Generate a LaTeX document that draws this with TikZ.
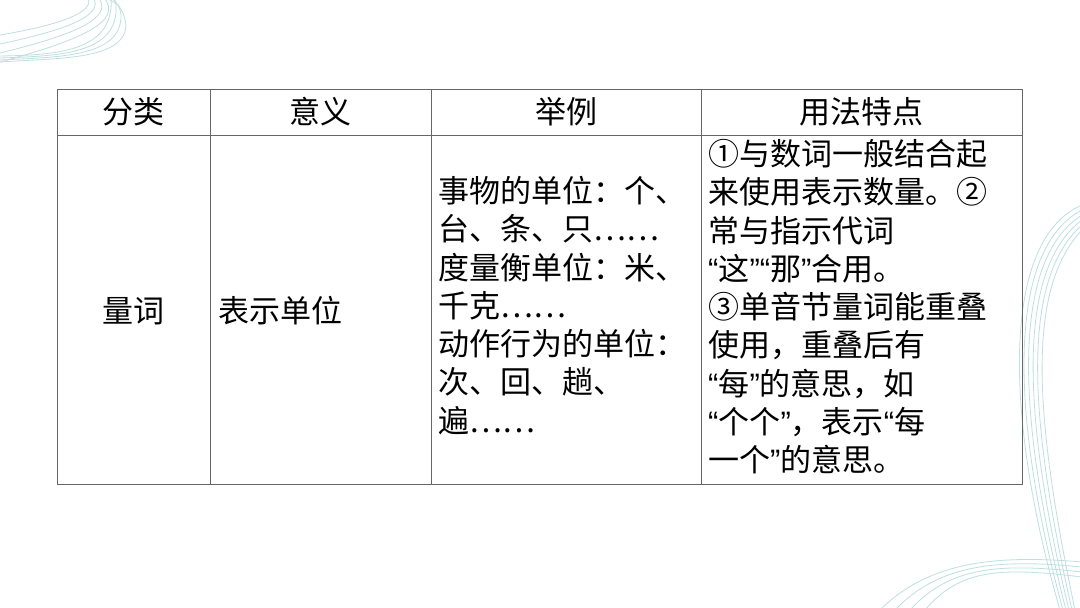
\documentclass[tikz,border=0pt]{standalone}
\usepackage{fontspec}
\newfontfamily\cjk{Noto Sans CJK SC}
\newfontfamily\lat{Liberation Sans}
\newcommand{\myl}{{\lat “}}
\newcommand{\myr}{{\lat ”}}
\begin{document}
\begin{tikzpicture}[x=1pt,y=-1pt,
  deco/.style={draw=teal!25,line width=0.8pt},
  grid/.style={draw=black!60,line width=0.7pt},
  cell/.style={font=\cjk\fontsize{31}{38.3}\selectfont,inner sep=0pt,align=left,anchor=north west},
  head/.style={font=\cjk\fontsize{31}{38}\selectfont,inner sep=0pt}]
\useasboundingbox (0,0) rectangle (1080,608);
\fill[white] (0,0) rectangle (1080,608);
% decorations top-left
\foreach \d in {0,9,18,27}{
  \draw[deco] (0,{35+\d}) .. controls ({60+\d},{25+\d*0.5}) and ({95+\d},{12+\d*0.3}) .. ({88+\d*0.6},-2);
}
\foreach \d in {0,10,20,30}{
  \draw[deco] (0,{62-\d*0.2}) .. controls (60,{58-\d*0.1}) and ({125-\d*0.3},{60-\d*0.3}) .. ({126-\d*0.5},{25-\d}) .. controls ({124-\d*0.5},{10-\d}) and ({118-\d*0.4},5) .. ({112-\d*0.3},-2);
}
% decorations right
\foreach \d in {0,10,20,30,40,50}{
  \draw[deco] (1082,{205+\d*0.5}) .. controls ({1000+\d*0.5},{240+\d}) and ({1005+\d*0.6},{420}) .. ({1060+\d*0.3},610);
}
\foreach \d in {0,10,20,30}{
  \draw[deco] ({880+\d*1.5},610) .. controls ({930+\d},{560+\d*0.3}) and ({1000},{555+\d*0.4}) .. (1082,{562+\d*0.5});
}
% table
\draw[grid] (57,89) rectangle (1022,484);
\draw[grid] (57,135) -- (1022,135);
\foreach \x in {210,431,701}{\draw[grid] (\x,89) -- (\x,484);}
\node[head] (h1) at (133.5,112) {分类};
\node[head] (h2) at (320.5,112) {意义};
\node[head] (h3) at (566,112) {举例};
\node[head] (h4) at (861.5,112) {用法特点};
\node[head] (c1) at (133.5,311) {量词};
\node[head,anchor=west] (c2) at (218,311) {表示单位};
\node[cell] (c3) at (438,176) {事物的单位：个、\\台、条、只……\\度量衡单位：米、\\千克……\\动作行为的单位：\\次、回、趟、\\遍……};
\node[cell] (c4) at (708,139) {①与数词一般结合起\\来使用表示数量。②\\常与指示代词\\\myl 这\myr\myl 那\myr 合用。\\③单音节量词能重叠\\使用，重叠后有\\\myl 每\myr 的意思，如\\\myl 个个\myr ，表示\myl 每\\一个\myr 的意思。};
\end{tikzpicture}
\end{document}
